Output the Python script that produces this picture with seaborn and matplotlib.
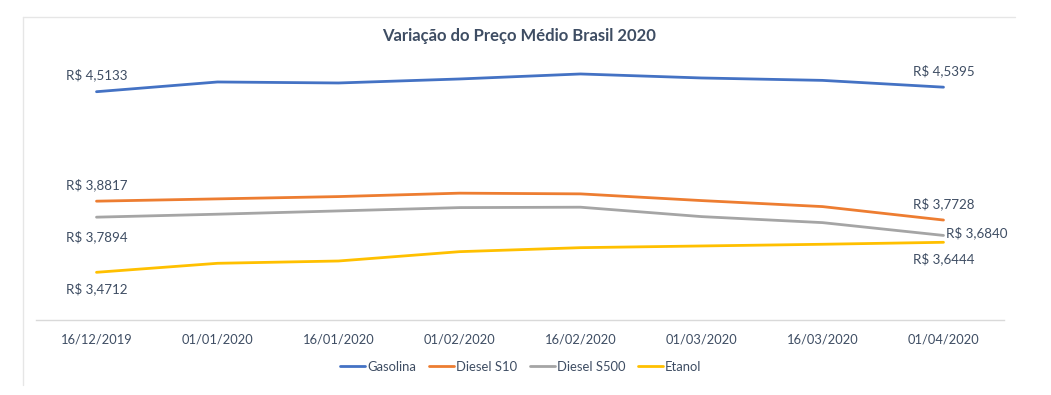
import matplotlib
matplotlib.use("Agg")
import matplotlib.pyplot as plt
import numpy as np
import pandas as pd
import seaborn as sns
from matplotlib.lines import Line2D

DATES = ["16/12/2019", "01/01/2020", "16/01/2020", "01/02/2020",
         "16/02/2020", "01/03/2020", "16/03/2020", "01/04/2020"]
SERIES = ["Gasolina", "Diesel S10", "Diesel S500", "Etanol"]
GASOLINA = [4.5133, 4.5695, 4.5637, 4.5868, 4.6157, 4.5926, 4.5787, 4.5395]
DIESEL_S10 = [3.8817, 3.8949, 3.9082, 3.9279, 3.9238, 3.8851, 3.8504, 3.7728]
DIESEL_S500 = [3.7894, 3.8065, 3.8255, 3.8446, 3.8469, 3.7926, 3.7579, 3.6840]
ETANOL = [3.4712, 3.5232, 3.5365, 3.5903, 3.6134, 3.6232, 3.6330, 3.6444]

COLORS = {"Gasolina": "#4472C4", "Diesel S10": "#ED7D31",
          "Diesel S500": "#A5A5A5", "Etanol": "#FFC000"}
TEXT = "#3E4D63"

values = {"Gasolina": GASOLINA, "Diesel S10": DIESEL_S10,
          "Diesel S500": DIESEL_S500, "Etanol": ETANOL}
df = pd.DataFrame(
    [(d, s, v) for s in SERIES for d, v in zip(DATES, values[s])],
    columns=["data", "serie", "preco"],
)

sns.set_style("white")
plt.rcParams["font.family"] = ["Lato", "DejaVu Sans"]

W, H = 1051, 395
fig = plt.figure(figsize=(W / 100, H / 100), dpi=100)
ax = fig.add_axes([36 / W, 1 - 320 / H, (1004 - 36) / W, (320 - 50) / H])

sns.lineplot(data=df, x="data", y="preco", hue="serie", hue_order=SERIES,
             palette=COLORS, linewidth=2.0, sort=False, ax=ax, legend=True)

ax.set_xlim(-0.5, len(DATES) - 0.5)
ax.set_ylim(3.196, 4.754)
ax.set_xlabel("")
ax.set_ylabel("")
ax.set_yticks([])
ax.set_xticks(range(len(DATES)))
ax.set_xticklabels(DATES, fontsize=9.3, color=TEXT)
ax.set_xticks(np.arange(-0.5, len(DATES)), minor=True)
ax.tick_params(axis="x", which="major", length=0, pad=10)
ax.tick_params(axis="x", which="minor", length=5, color="#d9d9d9", width=1)
for side in ["top", "left", "right"]:
    ax.spines[side].set_visible(False)
ax.spines["bottom"].set_color("#d9d9d9")
ax.spines["bottom"].set_linewidth(1)

# data labels at first and last point (offsets in points)
last = len(DATES) - 1
labels = [
    ("Gasolina", 0, (0, 12), "center"), ("Gasolina", last, (0, 12), "center"),
    ("Diesel S10", 0, (0, 12), "center"), ("Diesel S10", last, (0, 12), "center"),
    ("Diesel S500", 0, (0, -14), "center"), ("Diesel S500", last, (1.5, 2), "left"),
    ("Etanol", 0, (0, -12), "center"), ("Etanol", last, (0, -12), "center"),
]
for s, i, off, ha in labels:
    v = values[s][i]
    txt = "R$ " + f"{v:.4f}".replace(".", ",")
    ax.annotate(txt, (i, v), xytext=off, textcoords="offset points",
                ha=ha, va="center", fontsize=9.6, color=TEXT)

handles, labs = ax.get_legend_handles_labels()
ax.get_legend().remove()
fig.legend(handles, labs, loc="center", bbox_to_anchor=(521 / W, 1 - 367 / H),
           ncol=4, frameon=False, fontsize=9.4, labelcolor=TEXT,
           handlelength=1.9, handletextpad=0.15, columnspacing=1.0)

fig.suptitle("Variação do Preço Médio Brasil 2020", x=519 / W, y=1 - 36 / H,
             va="center", fontsize=12, fontweight="bold", color=TEXT)

# chart area border (top and left edge visible)
fig.add_artist(Line2D([23 / W, 1015 / W], [1 - 17 / H, 1 - 17 / H],
                      transform=fig.transFigure, color="#e6e6e6", lw=1))
fig.add_artist(Line2D([23 / W, 23 / W], [1 - 17 / H, 1 - 385 / H],
                      transform=fig.transFigure, color="#e6e6e6", lw=1))

fig.savefig("out.png", dpi=100)
